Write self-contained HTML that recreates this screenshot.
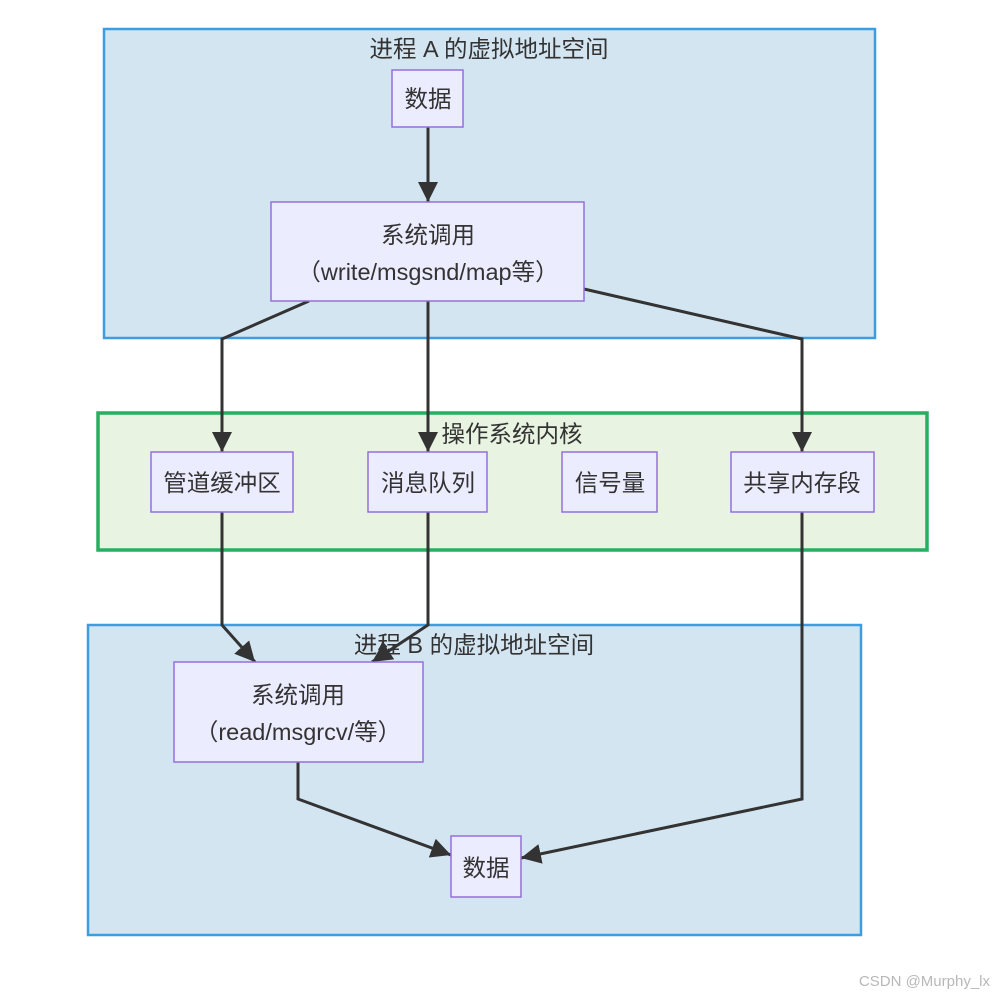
<!DOCTYPE html>
<html><head><meta charset="utf-8"><style>
body{margin:0;background:#fff;}
svg text{font-family:"Liberation Sans","Noto Sans CJK SC",sans-serif;fill:#333;}
</style></head><body>
<svg width="1002" height="998" viewBox="0 0 1002 998" xmlns="http://www.w3.org/2000/svg">
<defs>
<marker id="m" viewBox="0 0 10 10" refX="10" refY="5" markerWidth="20" markerHeight="20" orient="auto" markerUnits="userSpaceOnUse"><path d="M0,0L10,5L0,10z" fill="#333"/></marker></defs>
<rect x="104" y="29" width="771" height="309" fill="#d4e5f2" stroke="#3c9de0" stroke-width="2.5"/>
<text x="489" y="57" font-size="23.5" text-anchor="middle">进程 A 的虚拟地址空间</text>
<rect x="98" y="413" width="829" height="137" fill="#e8f4e1" stroke="#27ae60" stroke-width="3.5"/>
<text x="512" y="442" font-size="23.5" text-anchor="middle">操作系统内核</text>
<rect x="88" y="625" width="773" height="310" fill="#d4e5f2" stroke="#3c9de0" stroke-width="2.5"/>
<text x="474" y="653" font-size="23.5" text-anchor="middle">进程 B 的虚拟地址空间</text>
<g fill="none" stroke="#333" stroke-width="3">
<path d="M428,127V202" marker-end="url(#m)"/>
<path d="M309,301L222,339V452" marker-end="url(#m)"/>
<path d="M428,301V452" marker-end="url(#m)"/>
<path d="M584,289L802,339V452" marker-end="url(#m)"/>
<path d="M222,512V625L255,662" marker-end="url(#m)"/>
<path d="M428,512V625L372,662" marker-end="url(#m)"/>
<path d="M298,762V799L451,855" marker-end="url(#m)"/>
<path d="M802,512V799L521,858" marker-end="url(#m)"/>
</g>
<g fill="#ececff" stroke="#9370db" stroke-width="1.5">
<rect x="392" y="70" width="71" height="57"/>
<rect x="271" y="202" width="313" height="99"/>
<rect x="151" y="452" width="142" height="60"/>
<rect x="368" y="452" width="119" height="60"/>
<rect x="562" y="452" width="95" height="60"/>
<rect x="731" y="452" width="143" height="60"/>
<rect x="174" y="662" width="249" height="100"/>
<rect x="451" y="836" width="70" height="61"/>
</g>
<g font-size="23.5" text-anchor="middle">
<text x="428" y="107">数据</text>
<text x="428" y="243">系统调用</text>
<text x="428" y="280">（write/msgsnd/map等）</text>
<text x="222" y="491">管道缓冲区</text>
<text x="428" y="491">消息队列</text>
<text x="610" y="491">信号量</text>
<text x="802" y="491">共享内存段</text>
<text x="298" y="703">系统调用</text>
<text x="298" y="740">（read/msgrcv/等）</text>
<text x="486" y="876">数据</text>
</g>
<text x="990" y="986" font-size="15" text-anchor="end" style="fill:#b8b8b8">CSDN @Murphy_lx</text>
</svg>
</body></html>
